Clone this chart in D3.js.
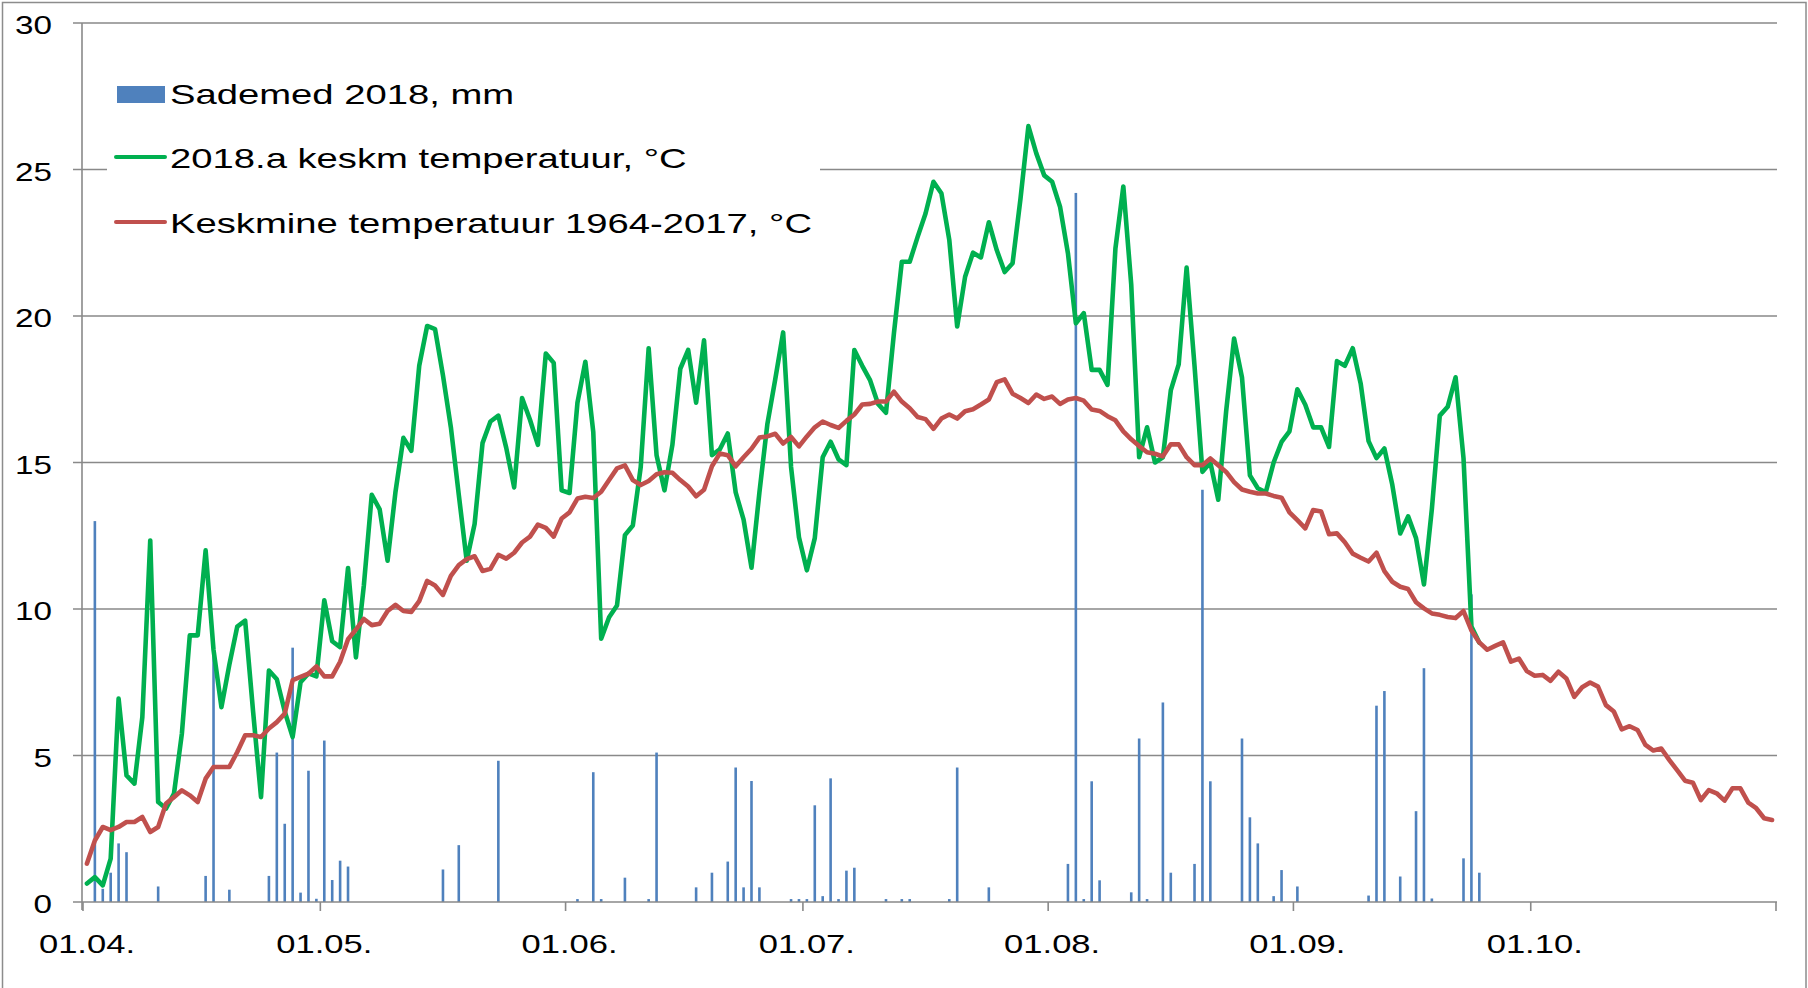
<!DOCTYPE html>
<html>
<head>
<meta charset="utf-8">
<script src="https://cdn.jsdelivr.net/npm/d3@7"></script>
<style>
  body{margin:0;background:#fff;}
  text{font-family:"Liberation Sans",Arial,sans-serif;fill:#000;}
</style>
</head>
<body>
<svg width="1808" height="988"></svg>
<script>

// ---- data ----------------------------------------------------------
var seriesNames = ["Sademed 2018, mm", "2018.a keskm temperatuur, \u00B0C", "Keskmine temperatuur 1964-2017, \u00B0C"];
var yTicks = [0, 5, 10, 15, 20, 25, 30];
var xTickLabels = ["01.04.", "01.05.", "01.06.", "01.07.", "01.08.", "01.09.", "01.10."];

// daily precipitation 2018 (mm), from 01.04.
var rain2018 = [
  0, 13.0, 0.45, 1.0, 2.0, 1.7, 0, 0, 0, 0.53,
  0, 0, 0, 0, 0, 0.89, 8.6, 0, 0.42, 0,
  0, 0, 0, 0.89, 5.1, 2.67, 8.68, 0.32, 4.48, 0.11,
  5.51, 0.75, 1.41, 1.21, 0, 0, 0, 0, 0, 0,
  0, 0, 0, 0, 0, 1.11, 0, 1.94, 0, 0,
  0, 0, 4.82, 0, 0, 0, 0, 0, 0, 0,
  0, 0, 0.1, 0, 4.43, 0.1, 0, 0, 0.83, 0,
  0, 0.1, 5.1, 0, 0, 0, 0, 0.5, 0, 1.0,
  0, 1.38, 4.59, 0.5, 4.13, 0.5, 0, 0, 0, 0.1,
  0.1, 0.1, 3.3, 0.2, 4.22, 0.1, 1.07, 1.17, 0, 0,
  0, 0.1, 0, 0.1, 0.1, 0, 0, 0, 0, 0.1,
  4.59, 0, 0, 0, 0.5, 0, 0, 0, 0, 0,
  0, 0, 0, 0, 1.3, 24.2, 0.1, 4.12, 0.74, 0,
  0, 0, 0.33, 5.58, 0.1, 0, 6.81, 1.0, 0, 0,
  1.3, 14.07, 4.12, 0, 0, 0, 5.58, 2.89, 2.0, 0,
  0.2, 1.09, 0, 0.53, 0, 0, 0, 0, 0, 0,
  0, 0, 0.22, 6.7, 7.2, 0, 0.87, 0, 3.1, 7.98,
  0.12, 0, 0, 0, 1.49, 10.5, 1.0
];

// daily mean temperature 2018
var temp2018 = [
  0.63, 0.85, 0.57, 1.48, 6.94, 4.32, 4.04, 6.31, 12.34, 3.41,
  3.19, 3.7, 5.75, 9.1, 9.1, 12.0, 8.6, 6.65, 8.1, 9.4,
  9.6, 6.5, 3.58, 7.9, 7.6, 6.5, 5.63, 7.5, 7.8, 7.7,
  10.3, 8.9, 8.7, 11.4, 8.35, 10.8, 13.9, 13.4, 11.65, 14.0,
  15.84, 15.4, 18.3, 19.66, 19.55, 17.97, 16.2, 13.9, 11.65, 12.9,
  15.66, 16.4, 16.6, 15.5, 14.15, 17.2, 16.46, 15.6, 18.72, 18.4,
  14.05, 13.96, 17.04, 18.44, 16.04, 8.99, 9.72, 10.12, 12.52, 12.85,
  14.85, 18.9, 15.25, 14.05, 15.6, 18.2, 18.84, 17.04, 19.17, 15.25,
  15.45, 15.99, 13.98, 13.05, 11.41, 13.98, 16.3, 17.84, 19.44, 14.85,
  12.45, 11.32, 12.42, 15.18, 15.71, 15.11, 14.91, 18.84, 18.3, 17.8,
  17.0, 16.7, 19.4, 21.85, 21.85, 22.7, 23.5, 24.58, 24.19, 22.6,
  19.64, 21.34, 22.16, 22.0, 23.2, 22.25, 21.5, 21.8, 24.0, 26.48,
  25.55, 24.8, 24.58, 23.73, 22.14, 19.75, 20.1, 18.16, 18.16, 17.65,
  22.3, 24.42, 21.07, 15.18, 16.2, 15.0, 15.18, 17.46, 18.35, 21.65,
  18.3, 14.68, 15.0, 13.73, 16.76, 19.23, 17.9, 14.56, 14.12, 13.98,
  15.0, 15.7, 16.06, 17.5, 16.97, 16.2, 16.2, 15.53, 18.46, 18.3,
  18.9, 17.7, 15.73, 15.15, 15.48, 14.24, 12.58, 13.16, 12.42, 10.84,
  13.41, 16.6, 16.9, 17.91, 15.15, 9.4, 8.85
];

// long-term mean temperature 1964-2017
var tempAvg = [
  1.31, 2.1, 2.56, 2.45, 2.56, 2.73, 2.73, 2.9, 2.39, 2.56,
  3.36, 3.58, 3.81, 3.64, 3.41, 4.21, 4.61, 4.61, 4.61, 5.12,
  5.69, 5.69, 5.63, 5.92, 6.14, 6.43, 7.57, 7.68, 7.79, 8.04,
  7.7, 7.7, 8.2, 8.97, 9.3, 9.66, 9.45, 9.5, 9.93, 10.14,
  9.93, 9.9, 10.27, 10.96, 10.8, 10.48, 11.13, 11.5, 11.7, 11.8,
  11.3, 11.37, 11.85, 11.72, 11.92, 12.27, 12.47, 12.88, 12.77, 12.47,
  13.09, 13.3, 13.77, 13.83, 13.79, 14.0, 14.4, 14.8, 14.9, 14.4,
  14.23, 14.37, 14.6, 14.67, 14.65, 14.4, 14.18, 13.85, 14.07, 14.87,
  15.31, 15.25, 14.87, 15.18, 15.47, 15.85, 15.89, 15.98, 15.65, 15.87,
  15.55, 15.89, 16.2, 16.4, 16.28, 16.18, 16.42, 16.64, 16.98, 17.0,
  17.08, 17.08, 17.42, 17.08, 16.85, 16.55, 16.48, 16.15, 16.5, 16.64,
  16.5, 16.75, 16.82, 16.98, 17.15, 17.74, 17.84, 17.35, 17.2, 17.03,
  17.32, 17.17, 17.25, 17.0, 17.15, 17.2, 17.11, 16.81, 16.76, 16.58,
  16.44, 16.06, 15.79, 15.56, 15.35, 15.3, 15.21, 15.62, 15.62, 15.18,
  14.91, 14.91, 15.14, 14.91, 14.68, 14.33, 14.08, 14.0, 13.94, 13.94,
  13.86, 13.8, 13.3, 13.03, 12.75, 13.38, 13.33, 12.55, 12.58, 12.28,
  11.89, 11.75, 11.62, 11.92, 11.29, 10.93, 10.76, 10.68, 10.23, 10.02,
  9.85, 9.8, 9.73, 9.69, 9.93, 9.27, 8.86, 8.61, 8.74, 8.86,
  8.2, 8.31, 7.88, 7.72, 7.75, 7.55, 7.86, 7.63, 7.0, 7.33,
  7.49, 7.35, 6.72, 6.5, 5.89, 6.0, 5.87, 5.36, 5.17, 5.24,
  4.85, 4.5, 4.14, 4.07, 3.48, 3.82, 3.71, 3.46, 3.88, 3.88,
  3.39, 3.2, 2.86, 2.8
];

// ---- layout ---------------------------------------------------------
var colors = {rain: "#4f81bd", t2018: "#00b050", avg: "#c0504d", grid: "#898989"};
var plot = {left: 83, right: 1776, top: 23, bottom: 902};
var stretch = 1.33;   // glyphs in the original are drawn wide

var svg = d3.select("svg");

// every day of 01.04.-31.10.2018
var days = d3.timeDay.range(new Date(2018, 3, 1), new Date(2018, 10, 1));
var fmt = d3.timeFormat("%d.%m.");

var x = d3.scaleBand()
  .domain(d3.range(days.length))
  .range([plot.left, plot.right]);

var y = d3.scaleLinear()
  .domain([0, 30])
  .range([plot.bottom, plot.top]);

function cx(i) { return x(i) + x.bandwidth() / 2; }

// outer frame
svg.append("rect")
  .attr("x", 2.5).attr("y", 2.5)
  .attr("width", 1803.5).attr("height", 1000)
  .attr("fill", "none").attr("stroke", "#8c8c8c").attr("stroke-width", 1.5);

// gridlines + y ticks
svg.append("g").selectAll("line")
  .data(yTicks.filter(function(t){ return t > 0; }))
  .enter().append("line")
  .attr("x1", plot.left - 10).attr("x2", plot.right + 1)
  .attr("y1", function(d){ return y(d); })
  .attr("y2", function(d){ return y(d); })
  .attr("stroke", colors.grid).attr("stroke-width", 1.6);

svg.append("g").selectAll("text")
  .data(yTicks)
  .enter().append("text")
  .attr("text-anchor", "end")
  .attr("font-size", 25)
  .attr("transform", function(d){ return "translate(52," + (y(d) + 11) + ") scale(" + stretch + ",1)"; })
  .text(function(d){ return d; });

// bars (only days with rain)
var rainDays = rain2018
  .map(function(v, i){ return {i: i, v: v}; })
  .filter(function(d){ return d.v > 0; });

svg.append("g").selectAll("rect")
  .data(rainDays)
  .enter().append("rect")
  .attr("x", function(d){ return cx(d.i) - 1.3; })
  .attr("width", 2.6)
  .attr("y", function(d){ return y(d.v); })
  .attr("height", function(d){ return y(0) - y(d.v); })
  .attr("fill", colors.rain);

// axes lines
svg.append("line")
  .attr("x1", plot.left - 10).attr("x2", plot.right + 1)
  .attr("y1", y(0)).attr("y2", y(0))
  .attr("stroke", colors.grid).attr("stroke-width", 1.6);
svg.append("line")
  .attr("x1", plot.left - 1).attr("x2", plot.left - 1)
  .attr("y1", y(30)).attr("y2", y(0) + 8)
  .attr("stroke", colors.grid).attr("stroke-width", 1.6);

// x ticks at month starts, labels centred on the day
var monthIdx = [];
days.forEach(function(d, i){ if (d.getDate() === 1) monthIdx.push(i); });

svg.append("g").selectAll("line")
  .data(monthIdx.concat([days.length]))
  .enter().append("line")
  .attr("x1", function(i){ return i < days.length ? x(i) : plot.right; })
  .attr("x2", function(i){ return i < days.length ? x(i) : plot.right; })
  .attr("y1", y(0)).attr("y2", y(0) + 9)
  .attr("stroke", colors.grid).attr("stroke-width", 1.6);

svg.append("g").selectAll("text")
  .data(monthIdx)
  .enter().append("text")
  .attr("text-anchor", "middle")
  .attr("font-size", 26)
  .attr("transform", function(i){ return "translate(" + cx(i) + ",953) scale(" + stretch + ",1)"; })
  .text(function(i){ return xTickLabels[xTickLabels.indexOf(fmt(days[i]))]; });

// lines
var line = d3.line()
  .x(function(d, i){ return cx(i); })
  .y(function(d){ return y(d); });

svg.append("path")
  .attr("d", line(temp2018))
  .attr("fill", "none").attr("stroke", colors.t2018)
  .attr("stroke-width", 4.6).attr("stroke-linejoin", "round").attr("stroke-linecap", "round");

svg.append("path")
  .attr("d", line(tempAvg))
  .attr("fill", "none").attr("stroke", colors.avg)
  .attr("stroke-width", 4.6).attr("stroke-linejoin", "round").attr("stroke-linecap", "round");

// legend
var lg = svg.append("g");
lg.append("rect")
  .attr("x", 107).attr("y", 48).attr("width", 713).attr("height", 205)
  .attr("fill", "#fff");
lg.append("rect")
  .attr("x", 117).attr("y", 86).attr("width", 48).attr("height", 17)
  .attr("fill", colors.rain);
lg.append("line")
  .attr("x1", 116).attr("x2", 165).attr("y1", 157).attr("y2", 157)
  .attr("stroke", colors.t2018).attr("stroke-width", 4).attr("stroke-linecap", "round");
lg.append("line")
  .attr("x1", 116).attr("x2", 165).attr("y1", 222).attr("y2", 222)
  .attr("stroke", colors.avg).attr("stroke-width", 4).attr("stroke-linecap", "round");

lg.selectAll("text")
  .data(seriesNames)
  .enter().append("text")
  .attr("font-size", 28)
  .attr("transform", function(d, i){ return "translate(170," + [103.5, 168, 233][i] + ") scale(1.365,1)"; })
  .text(function(d){ return d; });

</script>
</body>
</html>
